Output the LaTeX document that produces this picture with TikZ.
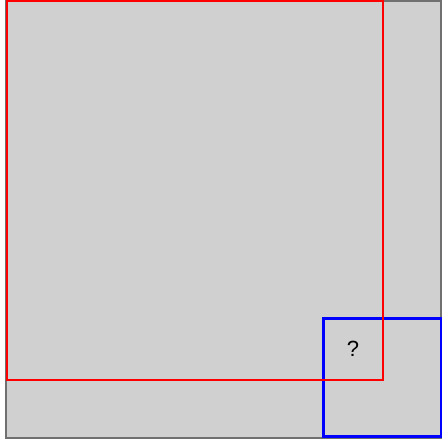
\documentclass[tikz,border=0pt]{standalone}
\usepackage{fontspec}
\setmainfont{Liberation Sans}
\usepackage{tikz}

\definecolor{panelgray}{RGB}{208,208,208}
\definecolor{framegray}{RGB}{112,112,112}

\begin{document}
\begin{tikzpicture}[
    x=1pt, y=-1pt,
    frame/.style={draw=framegray, fill=panelgray, line width=2pt},
    bigsq/.style={draw=red, line width=2.4pt},
    smallsq/.style={draw=blue, line width=2.4pt},
    mark label/.style={font=\fontsize{22}{26}\selectfont, inner sep=0pt},
]
\useasboundingbox (0,0) rectangle (442,440);

% -- outer panel ---------------------------------------------------------
\draw[frame] (6,1) rectangle (441,438);

% -- small square with the question mark --------------------------------
\draw[smallsq] (323.5,318.5) rectangle (441,436.5);
\node[mark label] (qmark) at (353,349) {?};

% -- large square -------------------------------------------------------
\draw[bigsq] (7,1) rectangle (383,380);

\end{tikzpicture}
\end{document}
